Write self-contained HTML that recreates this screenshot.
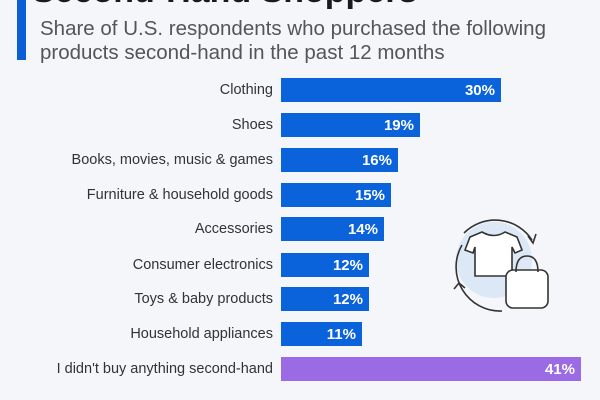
<!DOCTYPE html>
<html><head><style>
body{margin:0;width:600px;height:400px;overflow:hidden;background:#f4f6f9;font-family:"Liberation Sans",sans-serif;position:relative}
.t{position:absolute;left:32px;top:-28px;font-size:34px;font-weight:bold;color:#1a1a1a}
.lb{position:absolute;left:17px;top:0;width:9px;height:60px;background:#0a5fd6}
.s{position:absolute;left:40px;font-size:20.5px;color:#555}
.r{position:absolute;left:0;width:600px;height:24px}
.r .n{position:absolute;right:327px;top:4px;font-size:14.5px;color:#333;white-space:nowrap}
.r .b{position:absolute;left:281px;top:0;height:24px;background:#0b63dc}
.r .v{position:absolute;right:6px;top:4px;color:#fff;font-weight:bold;font-size:15px}
</style></head><body>
<div class="t">Second-Hand Shoppers</div>
<div class="lb"></div>
<div class="s" style="top:17px">Share of U.S. respondents who purchased the following</div>
<div class="s" style="top:41px">products second-hand in the past 12 months</div>
<div class="r" style="top:78px"><span class="n">Clothing</span><div class="b" style="width:220px"><span class="v">30%</span></div></div>
<div class="r" style="top:113px"><span class="n">Shoes</span><div class="b" style="width:139px"><span class="v">19%</span></div></div>
<div class="r" style="top:148px"><span class="n">Books, movies, music &amp; games</span><div class="b" style="width:117px"><span class="v">16%</span></div></div>
<div class="r" style="top:183px"><span class="n">Furniture &amp; household goods</span><div class="b" style="width:110px"><span class="v">15%</span></div></div>
<div class="r" style="top:217px"><span class="n">Accessories</span><div class="b" style="width:103px"><span class="v">14%</span></div></div>
<div class="r" style="top:253px"><span class="n">Consumer electronics</span><div class="b" style="width:88px"><span class="v">12%</span></div></div>
<div class="r" style="top:287px"><span class="n">Toys &amp; baby products</span><div class="b" style="width:88px"><span class="v">12%</span></div></div>
<div class="r" style="top:322px"><span class="n">Household appliances</span><div class="b" style="width:81px"><span class="v">11%</span></div></div>
<div class="r" style="top:357px"><span class="n">I didn't buy anything second-hand</span><div class="b" style="width:300px;background:#9b6be6"><span class="v">41%</span></div></div>
<svg style="position:absolute;left:432px;top:205px" width="120" height="115" viewBox="0 0 120 115">
<circle cx="62" cy="55" r="38" fill="#dce8f6"/>
<path d="M32 28 A44 44 0 0 1 100 35" fill="none" stroke="#333" stroke-width="1.6"/>
<path d="M96 31 L101 38 L104 29" fill="none" stroke="#333" stroke-width="1.6"/>
<path d="M30 40 A44 44 0 0 0 70 106" fill="none" stroke="#333" stroke-width="1.6"/>
<path d="M22 84 L27 78 L33 83" fill="none" stroke="#333" stroke-width="1.6"/>
<path d="M50 27 L38 32 L33 45 L41 48 L43 42 L43 71 L80 71 L80 42 L83 48 L90 45 L85 32 L73 27 Q62 34 50 27Z" fill="#fff" stroke="#333" stroke-width="1.6"/>
<rect x="74" y="65" width="42" height="38" rx="7" fill="#fff" stroke="#333" stroke-width="1.6"/>
<path d="M84 67 Q84 51 95 51 Q106 51 106 67" fill="none" stroke="#333" stroke-width="1.6"/>
</svg>
</body></html>
